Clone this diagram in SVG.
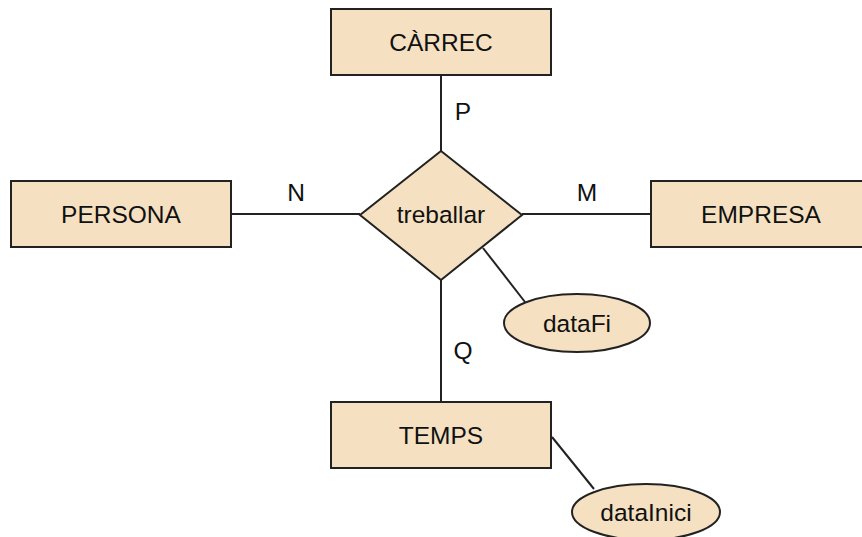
<svg xmlns="http://www.w3.org/2000/svg" width="862" height="537" viewBox="0 0 862 537">
  <style>
    .shape { fill: #f5e1c2; stroke: #222222; stroke-width: 2; }
    .link { stroke: #222222; stroke-width: 2; fill: none; }
    text { font-family: "Liberation Sans", Arial, sans-serif; font-size: 24.5px; fill: #111111; text-anchor: middle; dominant-baseline: central; }
  </style>
  <rect width="862" height="537" fill="#ffffff"/>
  <g id="connectors">
    <line class="link" x1="441" y1="75" x2="441" y2="151"/>
    <line class="link" x1="231" y1="214" x2="360" y2="214"/>
    <line class="link" x1="522" y1="214" x2="651" y2="214"/>
    <line class="link" x1="441" y1="280" x2="441" y2="402"/>
    <line class="link" x1="483" y1="248" x2="525" y2="302"/>
    <line class="link" x1="552" y1="437" x2="594" y2="489"/>
    <text x="463" y="111">P</text>
    <text x="296" y="192">N</text>
    <text x="587" y="192">M</text>
    <text x="463" y="350">Q</text>
  </g>
  <g id="carrec">
    <rect class="shape" x="331" y="9" width="220" height="66"/>
    <text x="441" y="42">CÀRREC</text>
  </g>
  <g id="persona">
    <rect class="shape" x="11" y="181" width="220" height="66"/>
    <text x="121" y="214">PERSONA</text>
  </g>
  <g id="empresa">
    <rect class="shape" x="651" y="181" width="220" height="66"/>
    <text x="761" y="214">EMPRESA</text>
  </g>
  <g id="treballar">
    <polygon class="shape" points="441,151 522,215 441,280 360,215"/>
    <text x="441" y="214">treballar</text>
  </g>
  <g id="temps">
    <rect class="shape" x="331" y="402" width="220" height="66"/>
    <text x="441" y="435">TEMPS</text>
  </g>
  <g id="dataFi">
    <ellipse class="shape" cx="577" cy="323" rx="73" ry="29"/>
    <text x="577" y="323">dataFi</text>
  </g>
  <g id="dataInici">
    <ellipse class="shape" cx="646" cy="512" rx="74" ry="28"/>
    <text x="646" y="512">dataInici</text>
  </g>
</svg>
